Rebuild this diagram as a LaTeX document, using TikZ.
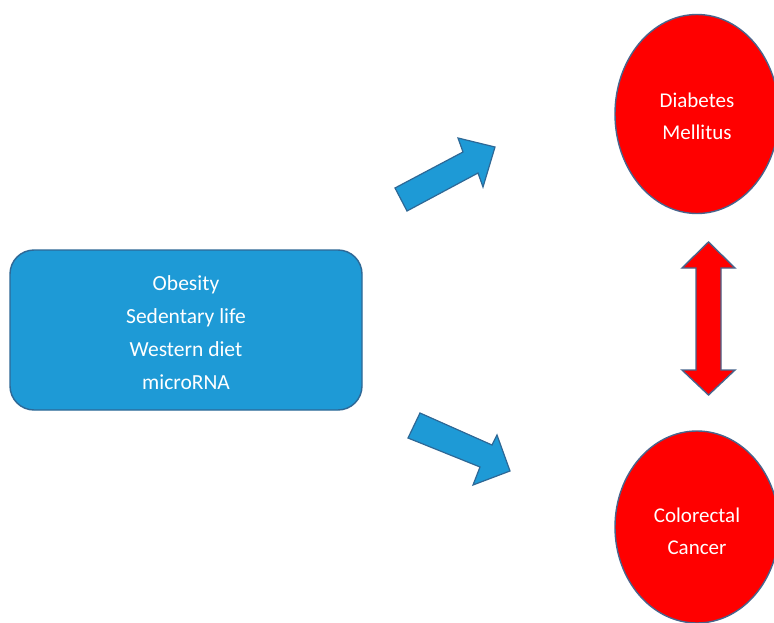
\documentclass[tikz,border=0pt]{standalone}
\usepackage{fontspec}
\usetikzlibrary{shapes.geometric}
\setmainfont{Carlito}
\definecolor{boxblue}{RGB}{30,154,214}
\definecolor{boxedge}{RGB}{46,104,150}
\definecolor{redfill}{RGB}{255,0,0}
\definecolor{rededge}{RGB}{72,100,140}
\begin{document}
\begin{tikzpicture}[x=1pt,y=-1pt,
  factorbox/.style={draw=boxedge,line width=1.4pt,fill=boxblue,rounded corners=24pt,
    minimum width=352pt,minimum height=160pt,text=white,align=center,
    font=\fontsize{21.5}{33}\selectfont},
  disease/.style={draw=rededge,line width=1.4pt,fill=redfill,ellipse,inner sep=0pt,
    minimum width=164pt,text=white,align=center,font=\fontsize{21}{32}\selectfont},
  lbl/.style={text=white,align=center,font=\fontsize{21}{32}\selectfont},
  blockarrow/.style={draw=boxedge,line width=1.2pt,fill=boxblue,line join=miter},
  redarrow/.style={draw=rededge,line width=1.4pt,fill=redfill,line join=miter}]
\useasboundingbox (0,0) rectangle (774,623);
\fill[white] (0,0) rectangle (774,623);
\node[factorbox] (factors) at (186,330) {};
\node[text=white,align=center,font=\fontsize{21.5}{33}\selectfont] (factext) at (186,333) {Obesity\\Sedentary life\\Western diet\\microRNA};
\node[disease,minimum height=199pt] (dm) at (697,114) {};
\node[lbl] (dmtext) at (697,116) {Diabetes\\Mellitus};
\node[disease,minimum height=192pt] (crc) at (697,527) {};
\node[lbl] (crctext) at (697,531) {Colorectal\\Cancer};
% upper block arrow
\draw[blockarrow] (407,211) -- (478,173) -- (483,187) -- (495,147) -- (458,138) -- (463,152) -- (395,188) -- cycle;
% lower block arrow
\draw[blockarrow] (420,413) -- (492,445) -- (497,435) -- (510,471) -- (473,485) -- (480,467) -- (408,438) -- cycle;
% double red arrow
\draw[redarrow] (708.5,242) -- (735,268) -- (721,268) -- (721,370) -- (735,370) -- (708.5,395) -- (682,370) -- (696,370) -- (696,268) -- (682,268) -- cycle;
\end{tikzpicture}
\end{document}
